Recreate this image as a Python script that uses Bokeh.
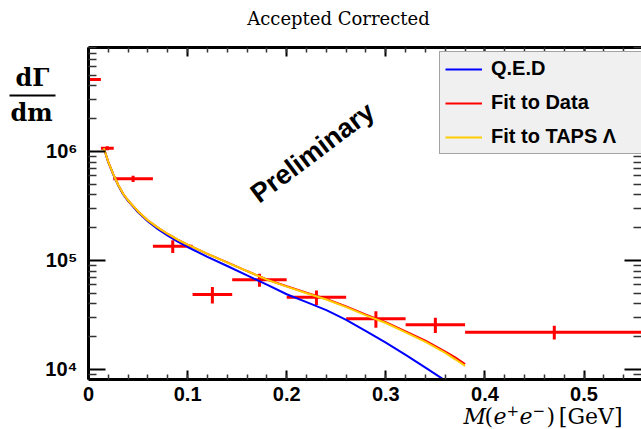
import numpy as np
from bokeh.plotting import figure
from bokeh.layouts import column, row
from bokeh.models import (LogAxis, LinearAxis, FixedTicker, SingleIntervalTicker,
                          CustomJSTickFormatter, Legend, LegendItem, Label,
                          BoxAnnotation, ColumnDataSource, Range1d)
from bokeh.embed import file_html
from bokeh.resources import INLINE

# ---------------- data ----------------
bin_center = [0.00625, 0.019, 0.045, 0.085, 0.125, 0.1725, 0.23, 0.29, 0.35, 0.47]
bin_halfwidth = [0.00625, 0.0065, 0.02, 0.02, 0.02, 0.0275, 0.03, 0.03, 0.03, 0.09]
rate = [4.57e6, 1.07e6, 5.62e5, 1.35e5, 4.87e4, 6.65e4, 4.6e4, 2.92e4, 2.57e4, 2.2e4]
rate_err = [0.0, 4.5e4, 3.6e4, 1.8e4, 8.5e3, 9.0e3, 7.0e3, 5.0e3, 4.1e3, 3.2e3]

curve_mass = [0.0155, 0.02, 0.025, 0.03, 0.035, 0.04, 0.05, 0.06, 0.07, 0.08, 0.09,
              0.10, 0.12, 0.14, 0.16, 0.18, 0.20, 0.22, 0.24, 0.26, 0.28, 0.30,
              0.32, 0.34, 0.36, 0.37, 0.38]
qed = [1.07e6, 7.95e5, 6.15e5, 4.88e5, 4.04e5, 3.5e5, 2.77e5, 2.28e5, 1.94e5, 1.69e5,
       1.49e5, 1.33e5, 1.08e5, 8.9e4, 7.3e4, 6.0e4, 4.9e4, 4.15e4, 3.5e4, 2.85e4,
       2.25e4, 1.76e4, 1.36e4, 1.04e4, 7.9e3, 6.8e3, 5.8e3]
fit_data = [1.07e6, 8.0e5, 6.2e5, 4.93e5, 4.09e5, 3.55e5, 2.82e5, 2.33e5, 2.0e5, 1.75e5,
            1.555e5, 1.40e5, 1.15e5, 9.6e4, 8.0e4, 6.7e4, 5.8e4, 5.05e4, 4.43e4, 3.78e4,
            3.19e4, 2.72e4, 2.24e4, 1.84e4, 1.46e4, 1.29e4, 1.12e4]
fit_taps = [1.07e6, 8.0e5, 6.2e5, 4.93e5, 4.09e5, 3.55e5, 2.82e5, 2.33e5, 2.0e5, 1.75e5,
            1.555e5, 1.40e5, 1.15e5, 9.57e4, 8.0e4, 6.67e4, 5.75e4, 5.0e4, 4.38e4, 3.73e4,
            3.14e4, 2.67e4, 2.19e4, 1.79e4, 1.42e4, 1.24e4, 1.08e4]

x_major_ticks = [0, 0.1, 0.2, 0.3, 0.4, 0.5]
y_major_ticks = [1e4, 1e5, 1e6]
legend_labels = ["Q.E.D", "Fit to Data", "Fit to TAPS \u039b"]
title_text = "Accepted Corrected"
watermark = "Preliminary"

SUP = {"0": "\u2070", "1": "\u00b9", "2": "\u00b2", "3": "\u00b3", "4": "\u2074",
       "5": "\u2075", "6": "\u2076", "7": "\u2077", "8": "\u2078", "9": "\u2079"}

def pow10_label(v):
    e = int(round(np.log10(v)))
    return "10" + "".join(SUP[c] for c in str(e))

# frame geometry (pixels in the 641x429 page)
FRAME_L, FRAME_R, FRAME_T, FRAME_B = 88, 641, 47, 379
X_END = 0.558
Y_RANGE = Range1d(8.09e3, 9.0e6)
X_RANGE = Range1d(0, X_END)
px = X_END / (FRAME_R - FRAME_L)          # data units per pixel along x

TICK_FONT = "Liberation Sans"
TICK_SIZE = "20px"
MID_H = FRAME_B + 3 - 45

# ---------------- main figure ----------------
p = figure(width=641 - 86, height=MID_H, x_range=X_RANGE, y_range=Y_RANGE,
           y_axis_type="log", output_backend="svg", toolbar_location=None,
           min_border_left=2, min_border_right=0, min_border_top=2,
           min_border_bottom=3)
p.outline_line_color = None
p.grid.visible = False
p.background_fill_color = "white"
p.border_fill_color = "white"

y_ticker = FixedTicker(ticks=[1e3, 1e4, 1e5, 1e6, 1e7],
                       minor_ticks=[m * 10.0 ** e for e in range(3, 7) for m in range(2, 10)])
x_ticker = SingleIntervalTicker(interval=0.1, num_minor_ticks=5)
blank_fmt = CustomJSTickFormatter(code="return '';")

def style_axis(ax, major_in, minor_in):
    ax.axis_line_width = 3
    ax.axis_line_color = "black"
    ax.major_tick_in = major_in
    ax.major_tick_out = 0
    ax.minor_tick_in = minor_in
    ax.minor_tick_out = 0
    ax.major_tick_line_width = 2
    ax.minor_tick_line_width = 1.5
    ax.major_tick_line_color = "black"
    ax.minor_tick_line_color = "#333333"
    # tick labels are drawn in the side strips
    ax.formatter = blank_fmt
    ax.major_label_text_color = None
    ax.major_label_text_font_size = "1px"
    ax.major_label_standoff = 0

yl = p.yaxis[0]
yl.ticker = y_ticker
style_axis(yl, 17, 8)

xb = p.xaxis[0]
xb.ticker = x_ticker
style_axis(xb, 9, 5)

xt = LinearAxis(ticker=x_ticker)
style_axis(xt, 9, 5)
p.add_layout(xt, "above")

yr = LogAxis(ticker=y_ticker)
style_axis(yr, 17, 8)
yr.axis_line_color = None
p.add_layout(yr, "right")

# data points with error bars
xc = np.array(bin_center)
hw = np.array(bin_halfwidth)
yv = np.array(rate)
ye = np.array(rate_err)
pts = ColumnDataSource(dict(x0=xc - hw, x1=xc + hw, x=xc, y=yv, ylo=yv - ye, yhi=yv + ye))
p.segment(x0="x0", y0="y", x1="x1", y1="y", source=pts, line_color="#ff0000", line_width=3)
p.segment(x0="x", y0="ylo", x1="x", y1="yhi", source=pts, line_color="#ff0000", line_width=3)

# curves
r_qed = p.line(curve_mass, qed, line_color="#0000ff", line_width=2)
r_fit = p.line(curve_mass, fit_data, line_color="#ff0000", line_width=2)
r_taps = p.line(curve_mass, fit_taps, line_color="#ffcc00", line_width=2)

legend = Legend(items=[LegendItem(label=legend_labels[0], renderers=[r_qed]),
                       LegendItem(label=legend_labels[1], renderers=[r_fit]),
                       LegendItem(label=legend_labels[2], renderers=[r_taps])],
                location=(351, 225), orientation="vertical",
                padding=5, spacing=11, glyph_width=37, glyph_height=22,
                label_height=22, label_width=170, label_standoff=9,
                label_text_font="Liberation Sans", label_text_font_style="bold",
                label_text_font_size="20px", label_text_color="black",
                background_fill_color="#f0f0f0", background_fill_alpha=1.0,
                border_line_color="#555555", border_line_width=1)
p.add_layout(legend)

p.add_layout(Label(x=224, y=227, x_units="screen", y_units="screen", text=watermark,
                   text_font="Liberation Sans", text_font_style="bold", text_font_size="27px",
                   text_align="center", text_baseline="middle", angle=0.646,
                   text_color="black"))

# ---------------- left strip: y tick labels and y title ----------------
left = figure(width=86, height=MID_H, x_range=Range1d(0, 86), y_range=Y_RANGE,
              y_axis_type="log", output_backend="svg", toolbar_location=None,
              x_axis_location=None, y_axis_location=None,
              min_border_left=0, min_border_right=0, min_border_top=2,
              min_border_bottom=3)
left.outline_line_color = None
left.grid.visible = False
for t in y_major_ticks:
    left.add_layout(Label(x=77, y=t, x_units="screen", y_units="data",
                          text=pow10_label(t), text_font=TICK_FONT,
                          text_font_style="bold", text_font_size=TICK_SIZE,
                          text_align="right", text_baseline="middle", text_color="black"))
left.add_layout(Label(x=32, y=FRAME_B - 77, x_units="screen", y_units="screen", text="d\u0393",
                      text_font="DejaVu Serif", text_font_style="bold", text_font_size="24px",
                      text_align="center", text_baseline="middle", text_color="black"))
left.add_layout(Label(x=31, y=FRAME_B - 112, x_units="screen", y_units="screen", text="dm",
                      text_font="DejaVu Serif", text_font_style="bold", text_font_size="24px",
                      text_align="center", text_baseline="middle", text_color="black"))
left.add_layout(BoxAnnotation(left=9, right=55, bottom=FRAME_B - 96, top=FRAME_B - 94,
                              left_units="screen", right_units="screen",
                              bottom_units="screen", top_units="screen",
                              fill_color="black", fill_alpha=1.0, line_color=None))

# ---------------- top strip: title ----------------
top = figure(width=641, height=45, x_range=Range1d(0, 1), y_range=Range1d(0, 1),
             output_backend="svg", toolbar_location=None,
             x_axis_location=None, y_axis_location=None,
             min_border_left=0, min_border_right=0, min_border_top=0, min_border_bottom=0)
top.outline_line_color = None
top.grid.visible = False
top.add_layout(Label(x=338, y=45 - 18, x_units="screen", y_units="screen", text=title_text,
                     text_font="DejaVu Serif", text_font_size="18px", text_align="center",
                     text_baseline="middle", text_color="black"))

# ---------------- bottom strip: x tick labels and x title ----------------
BOT_H = 429 - (FRAME_B + 3)
bottom = figure(width=641, height=BOT_H,
                x_range=Range1d(-FRAME_L * px, X_END), y_range=Range1d(0, 1),
                output_backend="svg", toolbar_location=None,
                x_axis_location=None, y_axis_location=None,
                min_border_left=0, min_border_right=0, min_border_top=0, min_border_bottom=0)
bottom.outline_line_color = None
bottom.grid.visible = False
for t in x_major_ticks:
    bottom.add_layout(Label(x=t, y=429 - 393, x_units="data", y_units="screen",
                            text=f"{t:g}", text_font=TICK_FONT, text_font_style="bold",
                            text_font_size=TICK_SIZE, text_align="center",
                            text_baseline="middle", text_color="black"))
# pieces of M(e+e-)[GeV]: (text, x, centre y above page bottom, size, style, align)
xlabel_pieces = [("M", 463, 13.5, "22px", "italic", "left"),
                 ("(", 484, 13.5, "22px", "normal", "left"),
                 ("e", 493, 13.5, "22px", "italic", "left"),
                 ("+", 506, 19, "15px", "normal", "left"),
                 ("e", 519, 13.5, "22px", "italic", "left"),
                 ("\u2212", 532, 19, "15px", "normal", "left"),
                 (")", 546, 13.5, "22px", "normal", "left"),
                 ("[GeV]", 622, 13.5, "22px", "normal", "right")]
for txt, xx, yy, fs, st, al in xlabel_pieces:
    bottom.add_layout(Label(x=xx, y=yy, x_units="screen", y_units="screen", text=txt,
                            text_font="DejaVu Serif", text_font_size=fs,
                            text_font_style=st, text_align=al,
                            text_baseline="middle", text_color="black"))

layout = column(top, row(left, p, spacing=0), bottom, spacing=0)

with open("out.html", "w", encoding="utf-8") as f:
    f.write(file_html(layout, INLINE))
